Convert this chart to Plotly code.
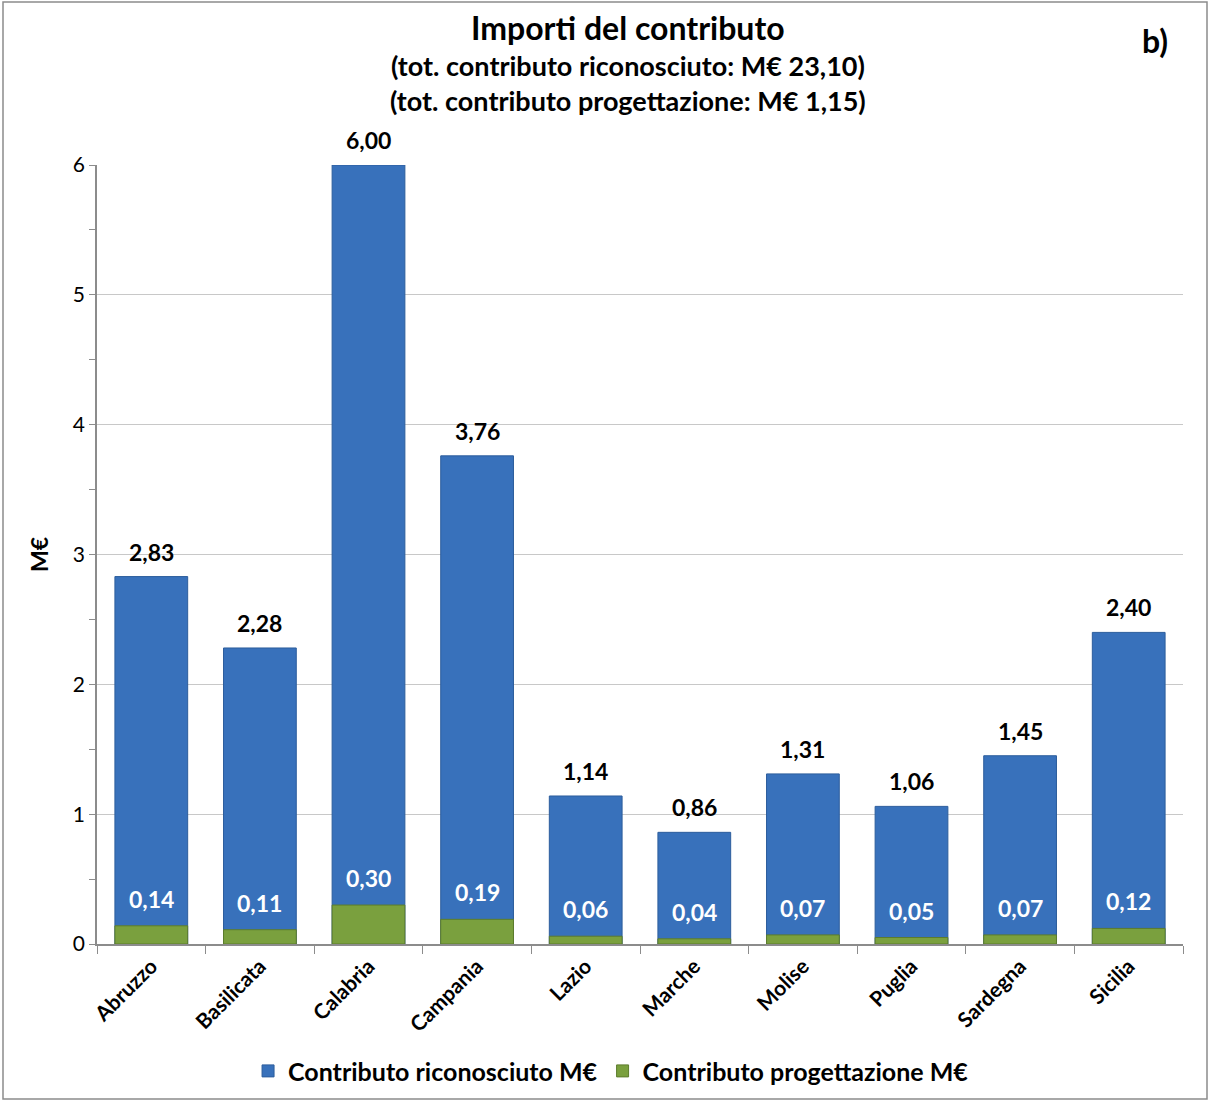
import plotly.graph_objects as go

regions = ["Abruzzo", "Basilicata", "Calabria", "Campania", "Lazio",
           "Marche", "Molise", "Puglia", "Sardegna", "Sicilia"]
riconosciuto = [2.83, 2.28, 6.00, 3.76, 1.14, 0.86, 1.31, 1.06, 1.45, 2.40]
progettazione = [0.14, 0.11, 0.30, 0.19, 0.06, 0.04, 0.07, 0.05, 0.07, 0.12]
y_ticks = [0, 1, 2, 3, 4, 5, 6]

FONT = "Lato"
W, H = 1210, 1102
L, R, T, B = 97, 27, 165, 158
pw, ph = W - L - R, H - T - B

fig = go.Figure()
fig.add_trace(go.Bar(
    x=regions, y=riconosciuto, name="Contributo riconosciuto M€",
    marker=dict(color="#3871bb", line=dict(color="#2c5d9c", width=1)),
    hoverinfo="x+y",
))
fig.add_trace(go.Bar(
    x=regions, y=progettazione, name="Contributo progettazione M€",
    marker=dict(color="#7aa03e", line=dict(color="#5c7c2c", width=1)),
    hoverinfo="x+y",
))

def px(xp):
    return (xp - L) / pw

def py(yp):
    return (H - B - yp) / ph

def fmt(v):
    return f"{v:.2f}".replace(".", ",")

annotations = []
for reg, v in zip(regions, riconosciuto):
    annotations.append(dict(x=reg, y=v, text=fmt(v), showarrow=False,
                            yanchor="middle", yshift=25,
                            font=dict(family=FONT, size=23, color="black", weight="bold")))
for reg, v in zip(regions, progettazione):
    annotations.append(dict(x=reg, y=v, text=fmt(v), showarrow=False,
                            yanchor="middle", yshift=27,
                            font=dict(family=FONT, size=23, color="white", weight="bold")))

annotations += [
    dict(text="Importi del contributo", xref="paper", yref="paper",
         x=px(628), y=py(27), showarrow=False, xanchor="center", yanchor="middle",
         font=dict(family=FONT, size=32, weight="bold")),
    dict(text="(tot. contributo riconosciuto: M€ 23,10)", xref="paper", yref="paper",
         x=px(628), y=py(65), showarrow=False, xanchor="center", yanchor="middle",
         font=dict(family=FONT, size=27, weight="bold")),
    dict(text="(tot. contributo progettazione: M€ 1,15)", xref="paper", yref="paper",
         x=px(628), y=py(101), showarrow=False, xanchor="center", yanchor="middle",
         font=dict(family=FONT, size=27, weight="bold")),
    dict(text="b)", xref="paper", yref="paper",
         x=px(1155), y=py(40), showarrow=False, xanchor="center", yanchor="middle",
         font=dict(family=FONT, size=32, weight="bold")),
]

fig.update_layout(
    width=W, height=H,
    margin=dict(l=L, r=R, t=T, b=B),
    paper_bgcolor="white", plot_bgcolor="white",
    barmode="overlay", bargap=0.33,
    separators=",.",
    font=dict(family=FONT, color="black"),
    showlegend=True,
    legend=dict(orientation="h", xref="container", yref="container",
                x=0.505, xanchor="center", y=0.028, yanchor="middle",
                font=dict(family=FONT, size=25, weight="bold"),
                itemwidth=30, traceorder="normal"),
    xaxis=dict(showline=True, linecolor="#8c8c8c", linewidth=1.5,
               ticks="outside", tickson="boundaries", ticklen=8, tickcolor="#8c8c8c",
               tickangle=-45, tickfont=dict(family=FONT, size=21, weight="bold"),
               showgrid=False),
    yaxis=dict(range=[0, 6], tickvals=y_ticks, showline=True, linecolor="#8c8c8c",
               linewidth=1.5, ticks="outside", ticklen=6, tickcolor="#8c8c8c",
               minor=dict(dtick=0.5, ticks="outside", ticklen=6, tickcolor="#8c8c8c", showgrid=False),
               showgrid=True, gridcolor="#c8c8c8", gridwidth=1,
               tickfont=dict(family=FONT, size=21), zeroline=False,
               title=dict(text="M€", font=dict(family=FONT, size=23, weight="bold"), standoff=18)),
    annotations=annotations,
    shapes=[dict(type="rect", xref="paper", yref="paper",
                 x0=px(3), x1=px(1207), y0=py(1099), y1=py(2),
                 line=dict(color="#8c8c8c", width=1.5), layer="below")],
)

fig.write_html("out.html", config={"displayModeBar": False},
               post_script="document.body.style.margin='0';document.body.style.overflow='hidden';")
